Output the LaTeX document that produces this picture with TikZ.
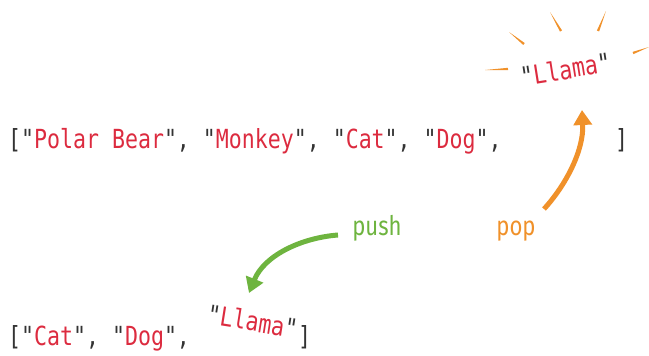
\documentclass[tikz,border=0pt]{standalone}
\usepackage{fontspec}
\setmonofont[FakeStretch=0.82]{DejaVu Sans Mono}
\setsansfont[FakeStretch=0.82]{Fira Sans}
\usetikzlibrary{arrows.meta,calc}

\definecolor{strred}{HTML}{DC2B3F}
\definecolor{pushgreen}{HTML}{6EB43F}
\definecolor{poporange}{HTML}{F0912A}
\definecolor{punct}{HTML}{333333}
\newcommand{\qstr}[1]{"\textcolor{strred}{#1}"}

\tikzset{
  code/.style={font=\fontsize{26.3}{30}\ttfamily, text=punct, inner sep=0pt},
  oplabel/.style={font=\fontsize{27}{30}\sffamily, inner sep=0pt, anchor=base},
  bigarrow/.style={line width=5pt, -{Triangle[length=15pt,width=18pt]}},
  ray/.style={poporange}
}

\begin{document}
\begin{tikzpicture}
  [x=1pt, y=-1pt]
  \useasboundingbox (0,0) rectangle (649,356);

  % the array before pop
  \node[code, anchor=base west] (row1) at (8,148)
    {[\qstr{Polar Bear}, \qstr{Monkey}, \qstr{Cat}, \qstr{Dog},};
  \node[code, anchor=base west] (row1end) at (615,148) {]};
  \node[code, anchor=base, rotate=9] (llamatop) at (567,79) {\qstr{Llama}};

  % the array after push
  \node[code, anchor=base west] (row2) at (8,345)
    {[\qstr{Cat}, \qstr{Dog},};
  \node[code, anchor=base, rotate=-9] (llamabot) at (251,331) {\qstr{Llama}};
  \node[code, anchor=base west] (row2end) at (298,345) {]};

  \node[oplabel, text=pushgreen] (push) at (377,235) {push};
  \node[oplabel, text=poporange] (pop) at (516,235) {pop};

  \coordinate (pushtail) at (338,235);
  \coordinate (pushtip) at (249,293);
  \coordinate (poptail) at (544,209);
  \coordinate (poptip) at (582,110);

  \draw[bigarrow, pushgreen] (pushtail) .. controls (300,238) and (264,256) .. (pushtip);
  \draw[bigarrow, poporange] (poptail) .. controls (566,185) and (584,150) .. (poptip);

  % rays round the popped string, thin at the outer end
  \foreach \x/\y/\u/\v in {485/70/508/69, 509/32/524/44, 550/12/561/31,
                           606/11/598/31, 649/47/633/53}
    \fill[ray] (\x,\y) -- ($(\u,\v)!1.2pt!90:(\x,\y)$)
      -- ($(\u,\v)!1.2pt!-90:(\x,\y)$) -- cycle;
\end{tikzpicture}
\end{document}
